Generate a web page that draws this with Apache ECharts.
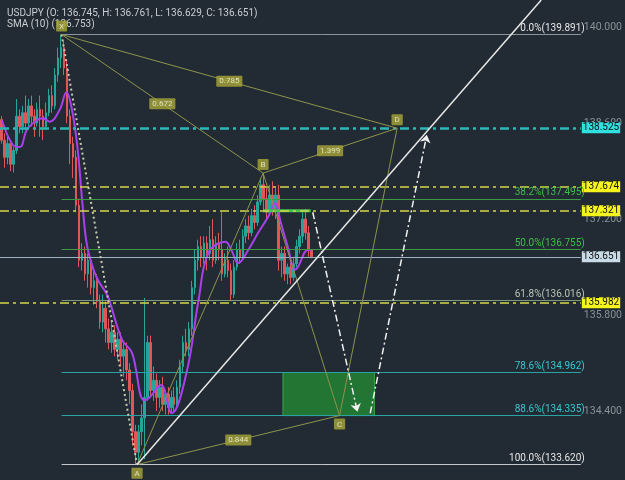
<!DOCTYPE html>
<html>
<head>
<meta charset="utf-8">
<script src="https://cdn.jsdelivr.net/npm/echarts@6/dist/echarts.min.js"></script>
<style>
  html, body { margin: 0; padding: 0; background: #222b33; }
  #chart { width: 625px; height: 480px; }
</style>
</head>
<body>
<div id="chart"></div>
<script>
// candles: [open, close, low, high]
const candles = [
  [138.65,138.35,138.30,138.70],[138.35,138.10,137.95,138.45],[138.10,138.30,138.00,138.40],[138.30,138.00,137.90,138.35],
  [138.00,138.20,137.88,138.25],[138.20,138.70,138.15,138.95],[138.70,138.55,138.45,138.80],[138.55,138.75,138.45,138.85],
  [138.75,138.60,138.50,139.00],[138.60,138.85,138.55,138.95],[138.85,138.70,138.55,139.00],[138.70,138.60,138.40,138.80],
  [138.60,138.80,138.55,138.90],[138.80,138.70,138.40,139.00],[138.70,138.55,138.35,138.80],[138.55,138.75,138.50,138.90],
  [138.75,139.00,138.70,139.10],[139.00,138.85,138.75,139.15],[138.85,139.30,138.80,139.40],[139.30,139.55,139.20,139.70],
  [139.55,139.70,139.40,139.89],[139.70,139.40,139.30,139.80],[139.40,138.70,138.60,139.50],[138.70,138.30,138.00,138.80],
  [138.30,138.10,137.80,138.40],[138.10,137.40,137.30,138.20],[137.40,136.60,136.50,137.50],[136.60,136.70,136.45,136.85],
  [136.70,136.40,136.30,136.80],[136.40,136.60,136.20,136.70],[136.60,136.20,136.10,136.65],[136.20,136.30,135.95,136.45],
  [136.30,136.00,135.90,136.40],[136.00,135.70,135.60,136.10],[135.70,135.90,135.55,136.10],[135.90,135.60,135.40,136.00],
  [135.60,135.40,135.30,135.75],[135.40,135.55,135.25,135.70],[135.55,135.30,135.20,135.65],[135.30,135.45,135.15,135.55],
  [135.45,135.20,135.05,135.55],[135.20,135.30,134.90,135.40],[135.30,135.00,134.85,135.40],[135.00,134.70,134.50,135.10],
  [134.70,134.10,133.90,134.80],[134.10,133.80,133.62,134.20],[133.80,134.10,133.65,134.20],[134.10,134.30,133.90,134.50],
  [134.30,134.60,133.70,136.05],[134.60,135.40,134.55,135.50],[135.40,134.70,134.60,135.50],[134.70,134.85,134.55,135.05],
  [134.85,134.60,134.40,134.95],[134.60,134.75,134.45,134.85],[134.75,134.50,134.40,134.90],[134.50,134.65,134.35,134.70],
  [134.65,134.45,134.35,134.75],[134.45,134.60,134.38,134.70],[134.60,134.50,134.40,134.75],[134.50,134.75,134.45,134.85],
  [134.75,135.05,134.65,135.15],[135.05,135.40,134.95,135.50],[135.40,135.30,135.20,135.60],[135.30,135.60,135.20,135.70],
  [135.60,136.20,135.50,136.30],[136.20,136.60,136.10,136.75],[136.60,136.80,136.45,136.90],[136.80,136.65,136.50,136.95],
  [136.65,136.85,136.55,136.95],[136.85,136.70,136.45,136.95],[136.70,136.90,136.60,137.10],[136.90,136.60,136.50,137.20],
  [136.60,136.85,136.55,136.95],[136.85,136.75,136.60,137.00],[136.75,136.40,136.30,137.30],[136.40,136.60,136.35,136.70],
  [136.60,136.45,136.35,136.80],[136.45,136.10,136.00,136.55],[136.10,136.50,136.05,136.60],[136.50,136.75,136.45,136.85],
  [136.75,136.65,136.55,136.90],[136.65,136.95,136.60,137.05],[136.95,137.10,136.85,137.20],[137.10,137.00,136.90,137.25],
  [137.00,137.25,136.95,137.35],[137.25,137.15,137.05,137.40],[137.15,137.45,137.10,137.55],[137.45,137.70,137.40,137.80],
  [137.70,137.50,137.30,137.87],[137.50,137.30,137.20,137.65],[137.30,137.55,137.25,137.70],[137.55,137.35,137.25,137.75],
  [137.35,137.55,137.20,137.65],[137.55,136.60,136.45,137.70],[136.60,136.70,136.35,136.80],[136.70,136.40,136.30,136.80],
  [136.40,136.50,136.25,136.55],[136.50,136.35,136.25,136.60],[136.35,136.55,136.30,136.65],[136.55,136.80,136.50,136.90],
  [136.80,136.95,136.70,137.05],[136.95,137.20,136.85,137.30],[137.20,137.00,136.90,137.35],[137.00,136.75,136.65,137.10],
  [136.745,136.651,136.629,136.761]
];
const barSlots = 195; // visible bar slots (candles + empty space on the right)

// SMA (10): [bar index, price]
const smaPts = [
  [0.17,138.64],[3.83,138.28],[6.17,138.25],[8.5,138.50],[11.83,138.64],[13.83,138.67],[16.17,138.62],
  [19.5,138.79],[21.83,139.05],[23.5,138.83],[25.5,138.25],[27.17,137.43],[28.83,136.79],[31.83,136.36],
  [35.17,136.12],[36.17,136.02],[40.5,135.44],[43.83,135.25],[47.83,134.56],[49.5,134.59],[53.5,134.78],
  [57.17,134.37],[62.17,134.97],[66.17,136.02],[69.5,136.71],[75.17,136.87],[77.17,136.75],[79.5,136.56],
  [82.83,136.75],[86.17,137.00],[89.5,137.23],[91.83,137.43],[93.83,137.14],[96.17,136.79],[98.5,136.46],
  [99.5,136.50],[102.83,136.75],[103.83,136.75]
];

// XABCD pattern points
const patNames = ['X', 'A', 'B', 'C', 'D'];
const patPts = [[20.17,139.891],[45.5,133.620],[87.83,137.870],[113.5,134.335],[132.83,138.525]];
// ratio legs: [from, to, label]
const ratioLegs = [[0,2,'0.672'],[0,4,'0.785'],[2,4,'1.399'],[1,3,'0.844']];

// fibonacci retracement X -> A
const fibPct = ['0.0%','38.2%','50.0%','61.8%','78.6%','88.6%','100.0%'];
const fibPrice = [139.891,137.495,136.755,136.016,134.962,134.335,133.620];
const fibColor = ['#8c939b','#3c9a44','#3c9a44','#7d9a7d','#2aa3a3','#2aa3a3','#c4c8cc'];
const fibText = ['#e6e6e6','#3fbf4a','#3fbf4a','#b8c4b8','#34c8d0','#34c8d0','#e6e6e6'];

// horizontal dash-dot levels with price tags
const levelPrice = [138.525, 137.674, 137.321, 135.982];
const levelColor = ['#2bb8b8', '#d6d64a', '#d6d64a', '#d6d64a'];
const levelTag = ['#2fe0e0', '#f4f41c', '#f4f41c', '#f4f41c'];
const lastPrice = 136.651;

// projection arrows and trend line
const arrowPaths = [[[104.5,137.30],[119.5,134.39]],[[123.8,134.37],[142.8,138.43]]];
const trendLine = [[45.5,133.62],[181.2,140.394]];
const greenSeg = [[87.8,137.321],[103.8,137.321]];
const targetBox = [[94.5,134.962],[125.2,134.335]];

const yTicks = [134.4, 135.8, 137.2, 138.6, 140.0];

const chart = echarts.init(document.getElementById('chart'));
const cats = [];
for (let i = 0; i < barSlots; i++) cats.push(String(i));
const xEnd = barSlots - 0.5;

const series = [];

// horizontal level lines
series.push({
  type: 'line', xAxisIndex: 1, data: [], z: 1,
  markLine: {
    silent: true, symbol: ['none', 'none'], animation: false,
    data: levelPrice.map((p, i) => ({
      yAxis: p,
      lineStyle: { color: levelColor[i], width: i === 0 ? 2.5 : 1.5, type: [9, 4, 3, 4] },
      label: {
        show: true, position: 'end', distance: 1, formatter: p.toFixed(3),
        backgroundColor: levelTag[i], color: '#111', fontSize: 10, fontFamily: 'Roboto',
        padding: [1, 1, 0, 1]
      }
    })).concat([{
      yAxis: lastPrice,
      lineStyle: { color: '#9fb2c2', width: 1, type: 'solid' },
      label: {
        show: true, position: 'end', distance: 1, formatter: lastPrice.toFixed(3),
        backgroundColor: '#c9dbe6', color: '#111', fontSize: 10, fontFamily: 'Roboto',
        padding: [1, 1, 0, 1]
      }
    }])
  }
});

// fib lines
series.push({
  type: 'line', xAxisIndex: 1, data: [], z: 1,
  markLine: {
    silent: true, symbol: ['none', 'none'], animation: false,
    data: fibPrice.map((p, i) => [
      {
        coord: [patPts[0][0], p],
        lineStyle: { color: fibColor[i], width: 1, type: 'solid' },
        label: {
          show: true, position: 'insideEndTop', distance: [-4, 1],
          formatter: fibPct[i] + '(' + p.toFixed(3) + ')',
          color: fibText[i], fontSize: 10, fontFamily: 'Roboto'
        }
      },
      { coord: [xEnd, p] }
    ])
  }
});

// target box
series.push({
  type: 'line', xAxisIndex: 1, data: [], z: 2,
  markArea: {
    silent: true,
    itemStyle: { color: 'rgba(34,130,50,0.85)', borderColor: '#38a848', borderWidth: 1 },
    data: [[{ coord: targetBox[0] }, { coord: targetBox[1] }]]
  }
});

// candles
series.push({
  type: 'candlestick', xAxisIndex: 0, data: candles, barWidth: 2, z: 3,
  itemStyle: { color: '#26a69a', color0: '#e0575a', borderColor: '#26a69a', borderColor0: '#e0575a', borderWidth: 1 }
});

// SMA
series.push({
  type: 'line', xAxisIndex: 1, data: smaPts, smooth: 0.4, showSymbol: false, z: 4,
  lineStyle: { color: '#a940ee', width: 2 }
});

// green segment
series.push({
  type: 'line', xAxisIndex: 1, data: greenSeg, showSymbol: false, z: 4,
  lineStyle: { color: '#45c34f', width: 3 }
});

// XA dotted leg
series.push({
  type: 'line', xAxisIndex: 1, data: [patPts[0], patPts[1]], showSymbol: false, z: 5,
  lineStyle: { color: '#c9c9b0', width: 2, type: [2, 3] }
});

// pattern legs (thin olive)
const legs = [[0,2],[0,4],[2,4],[1,3],[1,2],[2,3],[3,4]];
legs.forEach(l => {
  series.push({
    type: 'line', xAxisIndex: 1, data: [patPts[l[0]], patPts[l[1]]], showSymbol: false, z: 5,
    lineStyle: { color: '#8e934c', width: 1 }
  });
});

// trend line
series.push({
  type: 'line', xAxisIndex: 1, data: trendLine, showSymbol: false, z: 6,
  lineStyle: { color: '#e8e8e8', width: 1.5 }
});

// projection arrows
series.push({
  type: 'lines', coordinateSystem: 'cartesian2d', xAxisIndex: 1, z: 6,
  symbol: ['none', 'arrow'], symbolSize: 8,
  lineStyle: { color: '#f0f0f0', width: 1.5, type: [7, 3, 2, 3], opacity: 1 },
  data: arrowPaths.map(p => ({ coords: p }))
});

// labels
const labelStyle = {
  show: true, backgroundColor: '#aaa83a', color: '#f4f4e0', fontSize: 8,
  fontFamily: 'Roboto', padding: [2, 3, 1, 3], borderRadius: 1
};
series.push({
  type: 'scatter', xAxisIndex: 1, symbolSize: 0, z: 8, silent: true,
  data: patPts.map((p, i) => ({
    value: p,
    label: Object.assign({}, labelStyle, {
      formatter: patNames[i], position: (i === 1 || i === 3) ? 'bottom' : 'top', distance: 3
    })
  })).concat(ratioLegs.map(r => ({
    value: [(patPts[r[0]][0] + patPts[r[1]][0]) / 2, (patPts[r[0]][1] + patPts[r[1]][1]) / 2],
    label: Object.assign({}, labelStyle, { formatter: r[2], position: 'inside' })
  })))
});

chart.setOption({
  backgroundColor: '#222b33',
  animation: false,
  title: {
    text: 'USDJPY (O: 136.745, H: 136.761, L: 136.629, C: 136.651)\nSMA (10) (136.753)',
    left: 2, top: 3,
    textStyle: { color: '#c9ced3', fontSize: 10, fontWeight: 'normal', fontFamily: 'Roboto', lineHeight: 11 }
  },
  grid: { left: 0, right: 40, top: 0, bottom: 0 },
  xAxis: [
    { type: 'category', data: cats, show: false, boundaryGap: true },
    { type: 'value', min: -0.5, max: xEnd, show: false }
  ],
  yAxis: {
    type: 'value', position: 'right', min: 133.396, max: 140.394, scale: true,
    splitLine: { show: false }, axisLine: { show: false }, axisTick: { show: false },
    axisLabel: {
      customValues: yTicks, color: '#8a9199', fontSize: 10.5, fontFamily: 'Roboto', margin: 3,
      formatter: v => v.toFixed(3)
    }
  },
  series: series
});
</script>
</body>
</html>
